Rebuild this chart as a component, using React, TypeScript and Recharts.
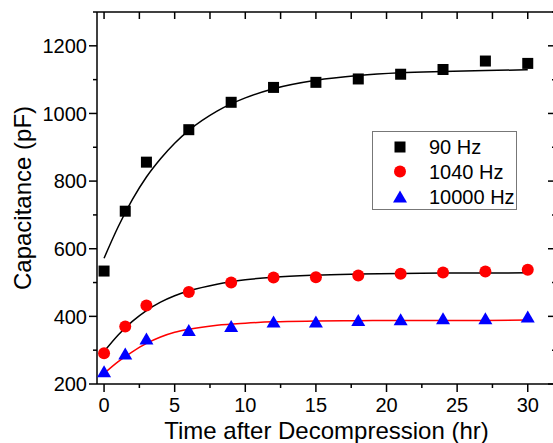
import React from 'react';
import { ComposedChart, Scatter, Line, XAxis, YAxis, Legend } from 'recharts';

// measured time points (hr)
const times = [0, 1.5, 3, 6, 9, 12, 15, 18, 21, 24, 27, 30];
const cap90 = [534, 711, 856, 952, 1033, 1077, 1092, 1102, 1116, 1130, 1155, 1148];
const cap1040 = [291, 370, 432, 472, 500, 515, 516, 521, 526, 530, 533, 538];
const cap10000 = [236, 289, 333, 358, 370, 383, 383, 388, 390, 393, 393, 398];

// fitted curves
const fitTimes = [0, 1, 2, 3, 4, 5, 6, 8, 10, 12, 15, 18, 21, 24, 27, 30];
const fit90 = [572, 665, 745, 812, 866, 912, 950, 1007, 1046, 1073, 1098, 1112, 1120, 1124, 1127, 1129];
const fit1040 = [296, 345, 385, 417, 442, 461, 475, 495, 508, 516, 522, 525, 527, 528, 528, 529];
const fit10000 = [231, 266, 295, 320, 339, 353, 362, 374, 380, 384, 386, 387, 388, 388, 388, 389];

const seriesNames = ['90 Hz', '1040 Hz', '10000 Hz'];
const xTicks = [0, 2.5, 5, 7.5, 10, 12.5, 15, 17.5, 20, 22.5, 25, 27.5, 30];
const yTicks = [200, 300, 400, 500, 600, 700, 800, 900, 1000, 1100, 1200, 1300];
const xTitle = 'Time after Decompression (hr)';
const yTitle = 'Capacitance (pF)';

const font = '"Liberation Sans", Arial, sans-serif';

const toPoints = (xs: number[], ys: number[]) => xs.map((t, i) => ({ t, c: ys[i] }));

const Square = (p: any) => <rect x={p.cx - 5.5} y={p.cy - 5.5} width={11} height={11} fill="#000" />;
const Dot = (p: any) => <circle cx={p.cx} cy={p.cy} r={6} fill="#ff0000" />;
const Tri = (p: any) => (
  <polygon points={`${p.cx},${p.cy - 6.5} ${p.cx + 7},${p.cy + 5.5} ${p.cx - 7},${p.cy + 5.5}`} fill="#0000ff" />
);
const Nothing = () => <g />;

const BottomTick = (props: any) => {
  const { x, y, payload } = props;
  const major = payload.value % 5 === 0;
  return (
    <g>
      <line x1={x} x2={x} y1={y} y2={y + (major ? 8 : 4)} stroke="#000" strokeWidth={1.5} />
      {major && (
        <text x={x} y={y + 14} dy="0.71em" textAnchor="middle" fontSize={20} fontFamily={font} fill="#000">
          {payload.value}
        </text>
      )}
    </g>
  );
};

const TopTick = (props: any) => {
  const { x, y } = props;
  return <line x1={x} x2={x} y1={y} y2={y + 7} stroke="#000" strokeWidth={1.5} />;
};

const LeftTick = (props: any) => {
  const { x, y, payload } = props;
  const major = payload.value % 200 === 0;
  return (
    <g>
      <line x1={x - (major ? 8 : 4)} x2={x} y1={y} y2={y} stroke="#000" strokeWidth={1.5} />
      {major && (
        <text x={x - 10} y={y} dy="0.36em" textAnchor="end" fontSize={20} fontFamily={font} fill="#000">
          {payload.value}
        </text>
      )}
    </g>
  );
};

const RightTick = (props: any) => {
  const { x, y, payload } = props;
  const major = payload.value % 200 === 0;
  return <line x1={x - (major ? 8 : 4)} x2={x} y1={y} y2={y} stroke="#000" strokeWidth={1.5} />;
};

const LegendBox = () => {
  const markers = [
    <rect key="s" x={21.5} y={9.5} width={11} height={11} fill="#000" />,
    <circle key="c" cx={27} cy={39.5} r={6} fill="#ff0000" />,
    <polygon key="t" points="27,58.5 34,70.5 20,70.5" fill="#0000ff" />,
  ];
  return (
    <div style={{ width: 143, height: 77, border: '1px solid #777', background: '#fff' }}>
      <svg width={143} height={77}>
        {seriesNames.map((name, i) => (
          <g key={name}>
            {markers[i]}
            <text x={56} y={15 + i * 25} dy="0.36em" fontSize={20} fontFamily={font} fill="#000">
              {name}
            </text>
          </g>
        ))}
      </svg>
    </div>
  );
};

export default function App() {
  return (
    <div style={{ position: 'absolute', left: 0, top: 0, width: 553, height: 443, overflow: 'hidden', background: '#fff' }}>
      <ComposedChart width={557} height={443} margin={{ top: 11, right: 0, bottom: 0, left: 0 }}>
        <XAxis
          xAxisId="bottom"
          dataKey="t"
          type="number"
          domain={[-0.5, 32]}
          ticks={xTicks}
          allowDataOverflow
          height={59}
          tickSize={0}
          tickMargin={0}
          tickLine={false}
          axisLine={{ stroke: '#000', strokeWidth: 1.5 }}
          tick={<BottomTick />}
          interval={0}
          label={{
            value: xTitle,
            content: (p: any) => {
              const vb = p.viewBox;
              return (
                <text x={vb.x + vb.width / 2} y={vb.y + 55} textAnchor="middle" fontSize={24} fontFamily={font} fill="#000">
                  {xTitle}
                </text>
              );
            },
          }}
        />
        <XAxis
          xAxisId="top"
          dataKey="t"
          orientation="top"
          type="number"
          domain={[-0.5, 32]}
          ticks={xTicks}
          allowDataOverflow
          height={1}
          tickSize={0}
          tickMargin={0}
          tickLine={false}
          axisLine={{ stroke: '#000', strokeWidth: 1.5 }}
          tick={<TopTick />}
          interval={0}
        />
        <YAxis
          yAxisId="left"
          dataKey="c"
          type="number"
          domain={[200, 1300]}
          ticks={yTicks}
          allowDataOverflow
          width={97}
          tickSize={0}
          tickMargin={0}
          tickLine={false}
          axisLine={{ stroke: '#000', strokeWidth: 1.5 }}
          tick={<LeftTick />}
          interval={0}
          label={{
            value: yTitle,
            content: (p: any) => {
              const vb = p.viewBox;
              const cy = vb.y + vb.height / 2;
              return (
                <text x={31} y={cy} transform={`rotate(-90 31 ${cy})`} textAnchor="middle" fontSize={24} fontFamily={font} fill="#000">
                  {yTitle}
                </text>
              );
            },
          }}
        />
        <YAxis
          yAxisId="right"
          dataKey="c"
          orientation="right"
          type="number"
          domain={[200, 1300]}
          ticks={yTicks}
          allowDataOverflow
          width={1}
          tickSize={0}
          tickMargin={0}
          tickLine={false}
          axisLine={{ stroke: '#000', strokeWidth: 1.5 }}
          tick={<RightTick />}
          interval={0}
        />
        <Line xAxisId="bottom" yAxisId="left" data={toPoints(fitTimes, fit90)} dataKey="c" type="monotone" stroke="#000" strokeWidth={1.5} dot={false} legendType="none" isAnimationActive={false} />
        <Line xAxisId="bottom" yAxisId="left" data={toPoints(fitTimes, fit1040)} dataKey="c" type="monotone" stroke="#000" strokeWidth={1.5} dot={false} legendType="none" isAnimationActive={false} />
        <Line xAxisId="bottom" yAxisId="left" data={toPoints(fitTimes, fit10000)} dataKey="c" type="monotone" stroke="#ff0000" strokeWidth={1.5} dot={false} legendType="none" isAnimationActive={false} />
        <Scatter xAxisId="bottom" yAxisId="left" name={seriesNames[0]} data={toPoints(times, cap90)} dataKey="c" shape={Square} isAnimationActive={false} />
        <Scatter xAxisId="bottom" yAxisId="left" name={seriesNames[1]} data={toPoints(times, cap1040)} dataKey="c" shape={Dot} isAnimationActive={false} />
        <Scatter xAxisId="bottom" yAxisId="left" name={seriesNames[2]} data={toPoints(times, cap10000)} dataKey="c" shape={Tri} isAnimationActive={false} />
        {/* invisible series so the top and right frame axes get drawn */}
        <Scatter xAxisId="top" yAxisId="right" data={toPoints(times, cap90)} dataKey="c" shape={Nothing} legendType="none" isAnimationActive={false} />
        <Legend
          layout="horizontal"
          verticalAlign="middle"
          align="center"
          content={() => <LegendBox />}
          wrapperStyle={{ position: 'absolute', left: 372, top: 131, width: 145, height: 79 }}
        />
      </ComposedChart>
    </div>
  );
}
